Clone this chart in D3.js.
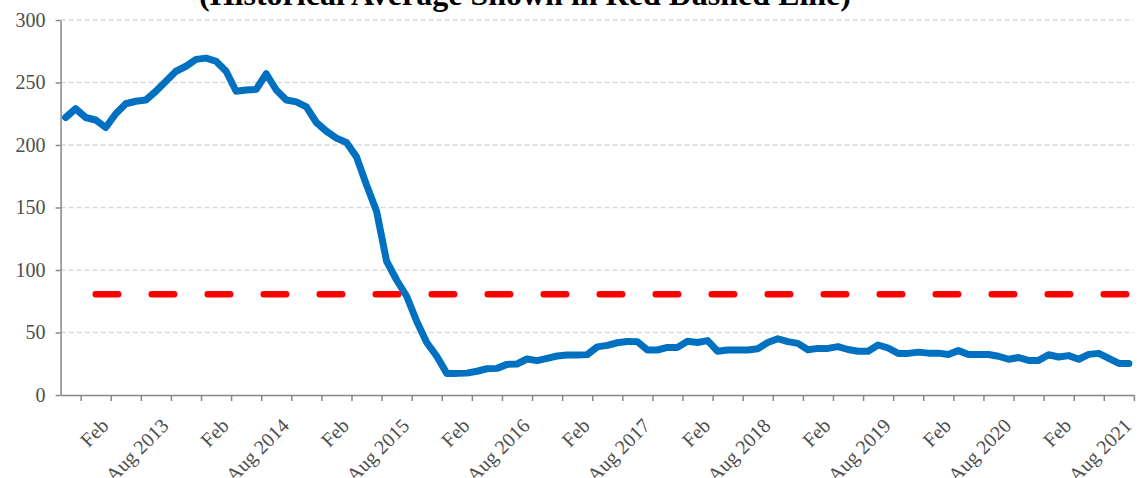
<!DOCTYPE html>
<html><head><meta charset="utf-8">
<script src="https://cdn.jsdelivr.net/npm/d3@7"></script>
<style>body{margin:0;background:#fff} svg{display:block}</style>
</head><body>
<svg id="chart" width="1138" height="478"></svg>
<script>
// ---- data ----
const titleText = "(Historical Average Shown in Red Dashed Line)";
// monthly observations, Sep 2012 .. Jul 2021
const firstMonth = "Sep 2012";
const seriesValues = [
  222, 229, 222, 220, 214, 225, 233, 235, 236, 243,
  251, 259, 263, 268.5, 269.5, 267, 259, 243, 244, 244.5,
  257, 244, 236, 234.5, 230.5, 218, 211, 205.5, 202, 190.5,
  168, 147, 107, 92, 79, 59, 42, 31, 17.3, 17.3,
  17.5, 19, 21, 21.3, 24.5, 24.8, 28.8, 27.5, 29.3, 31.2,
  32, 32, 32.3, 38.5, 39.7, 41.8, 42.8, 42.7, 36, 36,
  38.1, 38.1, 43, 42, 43.5, 35, 36, 36, 36, 37,
  42, 45, 42.7, 41.3, 36.2, 37.3, 37.3, 38.7, 36.4, 35,
  35, 40, 37.6, 33.3, 33.3, 34.3, 33.5, 33.5, 32.4, 35.5,
  32.4, 32.4, 32.4, 31, 28.6, 30, 27.7, 27.7, 32.2, 30.4,
  31.5, 28.6, 32.5, 33.3, 29.3, 25.3, 25.3
];
const historicalAverage = 80.6;
const averageStartIndex = 3;   // average line begins Dec 2012
const yTickValues = [0, 50, 100, 150, 200, 250, 300];
const xTickLabels = ["Feb", "Aug 2013", "Feb", "Aug 2014", "Feb", "Aug 2015",
  "Feb", "Aug 2016", "Feb", "Aug 2017", "Feb", "Aug 2018",
  "Feb", "Aug 2019", "Feb", "Aug 2020", "Feb", "Aug 2021"];
const firstLabelIndex = 5;  // Feb 2013 boundary (months from Sep 2012)
const labelStep = 6;        // months between labels
const tickStep = 3;         // months between tick marks
const firstTickIndex = 2;

// ---- layout ----
const svg = d3.select("#chart");
const plotL = 60.6, plotR = 1133.9, plotT = 20, plotB = 395;
const nSlots = seriesValues.length;   // one slot per month; axis ends at Aug 2021 boundary
const x = d3.scaleLinear().domain([0, nSlots]).range([plotL, plotR]);
const y = d3.scaleLinear().domain([0, 300]).range([plotB, plotT]);
const textColor = "#4d4d4d", axisColor = "#868686";
const font = "'Liberation Serif','Times New Roman',serif";

// gridlines
svg.append("g").selectAll("line").data(yTickValues.filter(v => v > 0)).join("line")
  .attr("x1", plotL).attr("x2", plotR)
  .attr("y1", d => y(d)).attr("y2", d => y(d))
  .attr("stroke", "#d9d9d9").attr("stroke-width", 1.5).attr("stroke-dasharray", "5,3");

// y axis
const yAxis = svg.append("g").attr("transform", `translate(${plotL},0)`)
  .call(d3.axisLeft(y).tickValues(yTickValues).tickSize(5).tickPadding(10).tickSizeOuter(0));
yAxis.select(".domain").attr("stroke", axisColor).attr("stroke-width", 1.5);
yAxis.selectAll(".tick line").attr("stroke", axisColor).attr("stroke-width", 1.5);
yAxis.selectAll(".tick text").attr("fill", textColor).attr("font-size", 20).attr("font-family", font);

// x axis
const tickIdx = d3.range(firstTickIndex, nSlots + 1, tickStep);
const labelOf = i => {
  const k = (i - firstLabelIndex) / labelStep;
  return (Number.isInteger(k) && k >= 0 && k < xTickLabels.length) ? xTickLabels[k] : "";
};
const xAxis = svg.append("g").attr("transform", `translate(0,${plotB})`)
  .call(d3.axisBottom(x).tickValues(tickIdx).tickFormat(labelOf).tickSize(6).tickSizeOuter(0));
xAxis.select(".domain").attr("stroke", axisColor).attr("stroke-width", 1.5);
xAxis.selectAll(".tick line").attr("stroke", axisColor).attr("stroke-width", 1.5);
xAxis.selectAll(".tick text")
  .attr("fill", textColor).attr("font-size", 20).attr("font-family", font)
  .attr("text-anchor", "end")
  .attr("y", 0).attr("dy", "0.35em")
  .attr("transform", "translate(-6.5,27) rotate(-45)");

// average line
const avgLine = d3.line().x(d => x(d + 0.5)).y(() => y(historicalAverage));
svg.append("path")
  .datum([averageStartIndex, seriesValues.length - 1])
  .attr("d", avgLine)
  .attr("fill", "none").attr("stroke", "#ff0000").attr("stroke-width", 6.5)
  .attr("stroke-linecap", "round").attr("stroke-dasharray", "22.5,33.5");

// series line
const line = d3.line().x((d, i) => x(i + 0.5)).y(d => y(d));
svg.append("path").datum(seriesValues).attr("d", line)
  .attr("fill", "none").attr("stroke", "#0070c0").attr("stroke-width", 7)
  .attr("stroke-linejoin", "round").attr("stroke-linecap", "round");

// title (partially cut at top)
svg.append("text").attr("x", 525).attr("y", 5).attr("text-anchor", "middle")
  .attr("font-family", font).attr("font-weight", "bold").attr("font-size", 32)
  .attr("fill", "#000").text(titleText);
</script>
</body></html>
